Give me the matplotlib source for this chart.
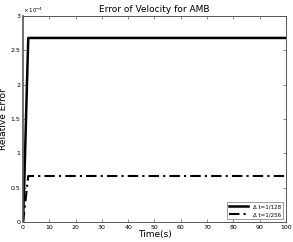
import numpy as np
import matplotlib
matplotlib.use('Agg')
import matplotlib.pyplot as plt

t_128 = [0, 0.5, 1.0, 1.5, 2.0, 100]
err_128 = [0, 0.6e-4, 1.3e-4, 2.0e-4, 2.68e-4, 2.68e-4]
t_256 = [0, 0.5, 1.0, 1.5, 2.0, 100]
err_256 = [0, 0.15e-4, 0.33e-4, 0.5e-4, 0.67e-4, 0.67e-4]
labels = ['\u0394 t=1/128', '\u0394 t=1/256']

fig = plt.figure(figsize=(2.93, 2.42), dpi=100)
ax = fig.add_axes([0.0785, 0.0826, 0.8976, 0.8514])
ax.plot(t_128, err_128, 'k-', lw=1.8, label=labels[0])
ax.plot(t_256, err_256, 'k-.', lw=1.5, dashes=(5, 2, 1, 2), label=labels[1])
ax.set_xlim(0, 100)
ax.set_ylim(0, 3e-4)
ax.set_xticks(np.arange(0, 101, 10))
ax.set_yticks(np.arange(0, 3.01e-4, 0.5e-4))
ax.set_yticklabels(['0', '0.5', '1', '1.5', '2', '2.5', '3'])
ax.tick_params(labelsize=4.5, direction='in', length=2, width=0.5, top=True, right=True,
               pad=2, color='#555555')
for s in ax.spines.values():
    s.set_linewidth(0.7)
    s.set_color('#555555')
ax.spines['left'].set_linewidth(1.2)
ax.text(0.0, 1.005, r'$\times\,10^{-4}$', transform=ax.transAxes, fontsize=4, va='bottom')
ax.set_title('Error of Velocity for AMB', fontsize=6.5, pad=3)
ax.set_xlabel('Time(s)', fontsize=6.5, labelpad=0)
ax.set_ylabel('Relative Error', fontsize=6.5, labelpad=2)
leg = ax.legend(loc='lower right', fontsize=4, frameon=True, fancybox=False,
                edgecolor='#555555', handlelength=3.5, borderpad=0.4, labelspacing=0.5)
leg.get_frame().set_linewidth(0.5)
fig.savefig('out.png', dpi=100)
